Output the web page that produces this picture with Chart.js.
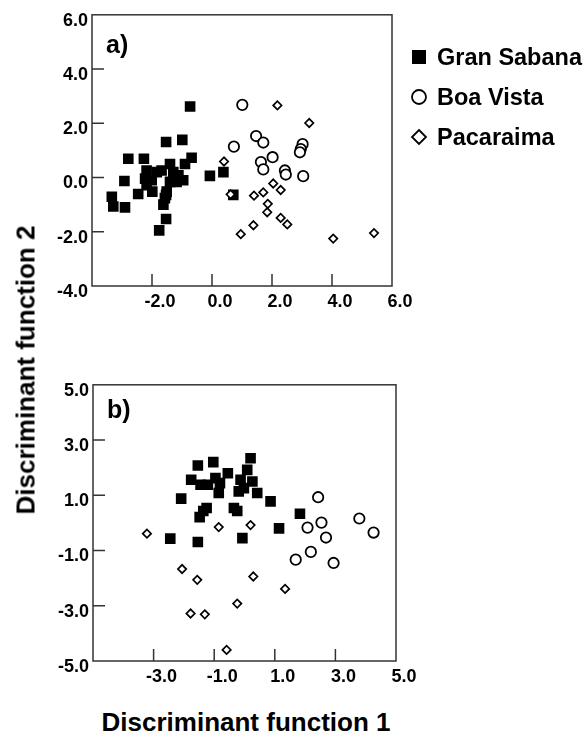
<!DOCTYPE html>
<html>
<head>
<meta charset="utf-8">
<script src="https://cdn.jsdelivr.net/npm/chart.js@4/dist/chart.umd.min.js"></script>
<style>
  body { margin: 0; background: #fff; }
  #page { position: relative; width: 587px; height: 744px; overflow: hidden; font-family: "Liberation Sans", Arial, sans-serif; font-weight: bold; }
  .wrap { position: absolute; left: 40px; width: 380px; }
  #wrapA { top: 0; height: 330px; }
  #wrapB { top: 370px; height: 331px; }
  .ytitle { position: absolute; left: 26px; top: 370px; transform: translate(-50%, -50%) rotate(-90deg); font-size: 26px; white-space: nowrap; }
  .xtitle { position: absolute; left: 246px; top: 722px; transform: translate(-50%, -50%); font-size: 26px; white-space: nowrap; }
  .legend { position: absolute; left: 410px; top: 37px; font-size: 23.5px; }
  .legend div { height: 40px; display: flex; align-items: center; white-space: nowrap; }
  .legend svg { width: 18px; height: 18px; margin-right: 9px; }
</style>
</head>
<body>
<div id="page">
  <div class="wrap" id="wrapA"><canvas id="chartA"></canvas></div>
  <div class="wrap" id="wrapB"><canvas id="chartB"></canvas></div>
  <div class="ytitle">Discriminant function 2</div>
  <div class="xtitle">Discriminant function 1</div>
  <div class="legend">
    <div><svg viewBox="0 0 18 18"><rect x="2" y="2" width="14" height="14" fill="#000"/></svg>Gran Sabana</div>
    <div><svg viewBox="0 0 18 18"><circle cx="9" cy="9" r="7" fill="#fff" stroke="#000" stroke-width="1.8"/></svg>Boa Vista</div>
    <div><svg viewBox="0 0 18 18"><path d="M9 2 L16 9 L9 16 L2 9 Z" fill="#fff" stroke="#000" stroke-width="1.8"/></svg>Pacaraima</div>
  </div>
</div>
<script>
const seriesNames = ['Gran Sabana', 'Boa Vista', 'Pacaraima'];

// panel a) [function 1, function 2]
const granSabanaA = [
  [-0.73, 2.62], [-1.53, 1.31], [-0.99, 1.39], [-2.79, 0.69], [-2.27, 0.69], [-0.68, 0.73],
  [-0.07, 0.06], [0.38, 0.20], [-2.92, -0.13], [-3.34, -0.71], [-3.29, -1.07], [-2.90, -1.10],
  [-2.46, -0.61], [-1.99, -0.52], [-1.62, -1.00], [-1.53, -1.53], [-1.76, -1.95], [-2.18, 0.26],
  [-2.23, -0.04], [-1.84, 0.20], [-1.68, 0.26], [-1.40, 0.50], [-1.29, 0.20], [-1.12, 0.08],
  [-0.90, 0.50], [-0.96, -0.10], [-1.40, -0.16], [-1.51, -0.52], [-1.57, -0.76], [-2.18, -0.28],
  [-2.01, -0.10], [-1.18, -0.16], [0.71, -0.64], [-1.53, -0.64]
];
const boaVistaA = [
  [1.01, 2.68], [1.47, 1.53], [1.71, 1.29], [0.73, 1.14], [3.02, 1.23], [2.96, 1.05],
  [2.93, 0.93], [2.02, 0.75], [1.63, 0.57], [1.71, 0.30], [2.43, 0.26], [2.46, 0.11], [3.04, 0.05]
];
const pacaraimaA = [
  [2.18, 2.66], [3.24, 2.01], [0.40, 0.59], [0.62, -0.62], [1.40, -0.67], [1.71, -0.55],
  [2.04, -0.22], [2.29, -0.46], [1.86, -0.97], [1.84, -1.28], [2.29, -1.49], [2.51, -1.73],
  [1.38, -1.76], [0.96, -2.09], [4.04, -2.25], [5.40, -2.05]
];

// panel b)
const granSabanaB = [
  [-1.54, 2.08], [-1.03, 2.20], [0.20, 2.34], [-0.55, 1.80], [-1.76, 1.56], [0.09, 1.92],
  [-1.45, 1.38], [-1.21, 1.38], [-0.96, 1.62], [-0.85, 1.08], [-0.81, 1.44], [-0.13, 1.56],
  [-0.02, 1.26], [-0.19, 1.14], [0.26, 1.50], [0.42, 1.08], [0.86, 0.78], [-2.09, 0.88],
  [-1.25, 0.54], [-1.36, 0.43], [-1.48, 0.21], [-0.35, 0.54], [-0.24, 0.43], [1.14, -0.20],
  [-2.45, -0.57], [-1.54, -0.69], [-0.07, -0.55], [1.83, 0.33]
];
const boaVistaB = [
  [2.43, 0.93], [3.79, 0.16], [4.26, -0.35], [2.54, 0.01], [2.08, -0.17], [2.69, -0.53],
  [2.19, -1.05], [1.69, -1.33], [2.94, -1.45]
];
const pacaraimaB = [
  [-3.22, -0.39], [-0.85, -0.15], [0.20, -0.08], [-2.06, -1.67], [-1.56, -2.06], [0.29, -1.94],
  [1.34, -2.39], [-0.24, -2.92], [-1.78, -3.28], [-1.31, -3.31], [-0.59, -4.60]
];

const xTicksA = [-4, -2, 0, 2, 4, 6];
const yTicksA = [-4, -2, 0, 2, 4, 6];
const xTicksB = [-5, -3, -1, 1, 3, 5];
const yTicksB = [-5, -3, -1, 1, 3, 5];

const tickFont = { family: '"Liberation Sans", Arial, sans-serif', size: 18, weight: 'bold' };

// box round the plot, short inward ticks, panel letter
const framePlugin = {
  id: 'frame',
  beforeDatasetsDraw(chart, args, opts) {
    const { ctx, chartArea: a } = chart;
    const x = chart.scales.x, y = chart.scales.y;
    ctx.save();
    ctx.strokeStyle = '#333';
    ctx.lineWidth = 1.5;
    ctx.strokeRect(a.left, a.top, a.right - a.left, a.bottom - a.top);
    ctx.beginPath();
    x.ticks.forEach(t => {
      if (t.value > x.min && t.value < x.max) {
        const px = x.getPixelForValue(t.value);
        ctx.moveTo(px, a.bottom);
        ctx.lineTo(px, a.bottom - 12);
      }
    });
    y.ticks.forEach(t => {
      if (t.value > y.min && t.value < y.max) {
        const py = y.getPixelForValue(t.value);
        ctx.moveTo(a.left, py);
        ctx.lineTo(a.left + 12, py);
      }
    });
    ctx.stroke();
    ctx.fillStyle = '#000';
    ctx.font = 'bold 25px "Liberation Sans", Arial, sans-serif';
    ctx.fillText(opts.text, a.left + 14, a.top + opts.dy);
    ctx.restore();
  }
};

function toPoints(arr) {
  return arr.map(p => ({ x: p[0], y: p[1] }));
}

function makeChart(id, sets, xTicks, yTicks, pad, xH, label, labelDy) {
  new Chart(id, {
    type: 'scatter',
    data: {
      datasets: [
        {
          label: seriesNames[0], data: toPoints(sets[0]), order: 2,
          pointStyle: 'rect', pointRadius: 7.5, pointHoverRadius: 7.5,
          backgroundColor: '#000', borderColor: '#000', borderWidth: 0
        },
        {
          label: seriesNames[1], data: toPoints(sets[1]), order: 1,
          pointStyle: 'circle', pointRadius: 5.2, pointHoverRadius: 5.2,
          backgroundColor: '#fff', borderColor: '#000', borderWidth: 1.8
        },
        {
          label: seriesNames[2], data: toPoints(sets[2]), order: 0,
          pointStyle: 'rectRot', pointRadius: 4.2, pointHoverRadius: 4.2,
          backgroundColor: '#fff', borderColor: '#000', borderWidth: 1.7
        }
      ]
    },
    options: {
      responsive: true,
      maintainAspectRatio: false,
      animation: false,
      layout: { autoPadding: false, padding: pad },
      plugins: {
        legend: { display: false },
        tooltip: { enabled: false },
        frame: { text: label, dy: labelDy }
      },
      scales: {
        x: {
          type: 'linear',
          min: xTicks[0], max: xTicks[xTicks.length - 1],
          afterBuildTicks: s => { s.ticks = xTicks.map(v => ({ value: v })); },
          afterFit: s => { s.height = xH; },
          grid: { display: false, drawTicks: false },
          border: { display: false },
          ticks: {
            font: tickFont, color: '#000', padding: 5, labelOffset: 8,
            maxRotation: 0, autoSkip: false,
            callback: v => (v === xTicks[0] ? '' : v.toFixed(1))
          }
        },
        y: {
          type: 'linear',
          min: yTicks[0], max: yTicks[yTicks.length - 1],
          afterBuildTicks: s => { s.ticks = yTicks.map(v => ({ value: v })); },
          afterFit: s => { s.width = 52; },
          grid: { display: false, drawTicks: false },
          border: { display: false },
          ticks: {
            font: tickFont, color: '#000', padding: 4, labelOffset: 6,
            autoSkip: false,
            callback: v => v.toFixed(1)
          }
        }
      }
    },
    plugins: [framePlugin]
  });
}

makeChart('chartA', [granSabanaA, boaVistaA, pacaraimaA], xTicksA, yTicksA,
  { top: 10, right: 28, left: 0, bottom: 0 }, 44, 'a)', 38);
makeChart('chartB', [granSabanaB, boaVistaB, pacaraimaB], xTicksB, yTicksB,
  { top: 13, right: 24, left: 1, bottom: 0 }, 40, 'b)', 33);
</script>
</body>
</html>
